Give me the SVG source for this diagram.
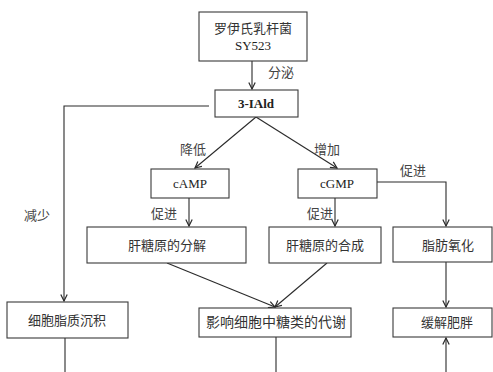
<svg xmlns="http://www.w3.org/2000/svg" width="493" height="372" viewBox="0 0 493 372">
<defs>
<style>
.box{fill:#fff;stroke:#3a3a3a;stroke-width:1.1}
.t{font-family:"Liberation Serif","Noto Sans CJK SC",serif;font-size:13px;fill:#222;text-anchor:middle}
.c{font-family:"Noto Sans CJK SC","Liberation Serif",sans-serif;font-size:13px;fill:#333;text-anchor:middle}
.lbl{font-family:"Noto Sans CJK SC",sans-serif;font-size:13px;fill:#444;text-anchor:middle}
.ln{fill:none;stroke:#2a2a2a;stroke-width:1.1}
</style>
<marker id="ah" viewBox="0 0 10 10" refX="9" refY="5" markerWidth="8" markerHeight="8" markerUnits="userSpaceOnUse" orient="auto">
<path d="M1,1 L9,5 L1,9" fill="none" stroke="#2a2a2a" stroke-width="1.5"/>
</marker>
</defs>
<rect width="493" height="372" fill="#fff"/>
<g id="connectors">
<line class="ln" x1="252" y1="61" x2="252" y2="89" marker-end="url(#ah)"/>
<polyline class="ln" points="209,106 64,106 64,301" marker-end="url(#ah)"/>
<line class="ln" x1="256" y1="117" x2="195" y2="168" marker-end="url(#ah)"/>
<line class="ln" x1="256" y1="117" x2="337" y2="168" marker-end="url(#ah)"/>
<line class="ln" x1="189" y1="198" x2="189" y2="226" marker-end="url(#ah)"/>
<line class="ln" x1="335" y1="198" x2="335" y2="226" marker-end="url(#ah)"/>
<polyline class="ln" points="377,182 446,182 446,226" marker-end="url(#ah)"/>
<line class="ln" x1="167" y1="263" x2="275" y2="307" marker-end="url(#ah)"/>
<line class="ln" x1="327" y1="263" x2="275" y2="307" marker-end="url(#ah)"/>
<line class="ln" x1="446" y1="262" x2="446" y2="307" marker-end="url(#ah)"/>
<line class="ln" x1="65" y1="338" x2="65" y2="372"/>
<line class="ln" x1="276" y1="337" x2="276" y2="372"/>
<line class="ln" x1="446" y1="372" x2="446" y2="338" marker-end="url(#ah)"/>
</g>
<g id="labels">
<text class="lbl" x="281" y="77">分泌</text>
<text class="lbl" x="193" y="154">降低</text>
<text class="lbl" x="327" y="154">增加</text>
<text class="lbl" x="164" y="218">促进</text>
<text class="lbl" x="320" y="218">促进</text>
<text class="lbl" x="413" y="175">促进</text>
<text class="lbl" x="37" y="220">减少</text>
</g>
<g id="n_bacteria">
<rect class="box" x="199" y="12" width="108" height="49"/>
<text class="c" x="253" y="33">罗伊氏乳杆菌</text>
<text class="t" x="253" y="50">SY523</text>
</g>
<g id="n_iald">
<rect class="box" x="215" y="90" width="83" height="27"/>
<text class="t" x="256" y="108" style="font-weight:bold">3-IAld</text>
</g>
<g id="n_camp">
<rect class="box" x="151" y="169" width="78" height="29"/>
<text class="t" x="190" y="188">cAMP</text>
</g>
<g id="n_cgmp">
<rect class="box" x="298" y="169" width="79" height="29"/>
<text class="t" x="337" y="188">cGMP</text>
</g>
<g id="n_glyco_break">
<rect class="box" x="87" y="227" width="159" height="36"/>
<text class="c" x="167" y="250">肝糖原的分解</text>
</g>
<g id="n_glyco_synth">
<rect class="box" x="269" y="227" width="112" height="36"/>
<text class="c" x="325" y="250">肝糖原的合成</text>
</g>
<g id="n_fat_ox">
<rect class="box" x="393" y="227" width="99" height="35"/>
<text class="c" x="448" y="250">脂肪氧化</text>
</g>
<g id="n_lipid">
<rect class="box" x="7" y="302" width="121" height="36"/>
<text class="c" x="67" y="325">细胞脂质沉积</text>
</g>
<g id="n_sugar">
<rect class="box" x="199" y="308" width="152" height="29"/>
<text class="c" x="276" y="327" style="font-size:14px">影响细胞中糖类的代谢</text>
</g>
<g id="n_obesity">
<rect class="box" x="393" y="308" width="99" height="29"/>
<text class="c" x="447" y="327">缓解肥胖</text>
</g>
</svg>
